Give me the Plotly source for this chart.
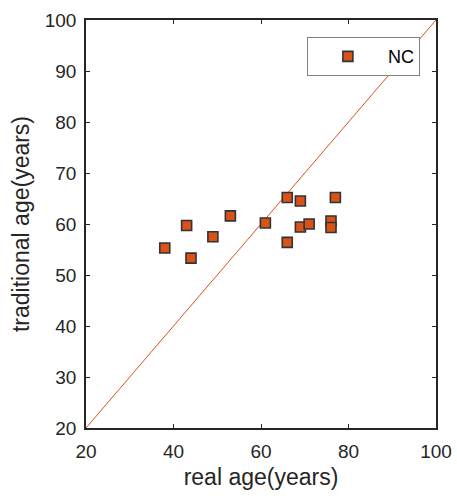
import plotly.graph_objects as go

real_age = [38, 43, 44, 49, 53, 61, 66, 66, 69, 69, 71, 76, 76, 77]
trad_age = [55.3, 59.7, 53.3, 57.5, 61.6, 60.2, 65.2, 56.4, 64.5, 59.4, 60.0, 60.6, 59.3, 65.2]
identity = [20, 100]

orange = "#D95319"
axis_col = "#262626"
font = "Liberation Sans, Arial, Helvetica, sans-serif"

fig = go.Figure()
fig.add_trace(go.Scatter(x=identity, y=identity, mode="lines",
                         line=dict(color=orange, width=1), showlegend=False,
                         hoverinfo="skip"))
fig.add_trace(go.Scatter(x=real_age, y=trad_age, mode="markers", name="NC",
                         marker=dict(symbol="square", size=10, color=orange,
                                     line=dict(color="#333333", width=1.6))))

axis_common = dict(range=[20, 100], dtick=10, showgrid=False, zeroline=False,
                   showline=True, linecolor=axis_col, linewidth=1.5, mirror="ticks",
                   ticks="inside", ticklen=4, tickcolor=axis_col, tickwidth=1.2,
                   tickfont=dict(family=font, size=19, color=axis_col),
                   title_font=dict(family=font, size=23, color=axis_col))

fig.update_xaxes(**axis_common)
fig.update_xaxes(dtick=20, title_text="real age(years)", ticklabelstandoff=5,
                 automargin="bottom", title_standoff=8)
fig.update_yaxes(**axis_common)
fig.update_yaxes(title_text="traditional age(years)", ticklabelstandoff=4,
                 automargin="left", title_standoff=9)

fig.update_layout(
    width=457, height=500,
    margin=dict(l=86, r=21, t=20, b=72),
    plot_bgcolor="white", paper_bgcolor="white",
    font=dict(family=font, color=axis_col),
    legend=dict(x=0.954, xanchor="right", y=0.958, yanchor="top",
                bordercolor="#808080", borderwidth=1, bgcolor="white",
                font=dict(family=font, size=18, color="#000000"),
                itemwidth=70),
)

fig.write_html("out.html")
